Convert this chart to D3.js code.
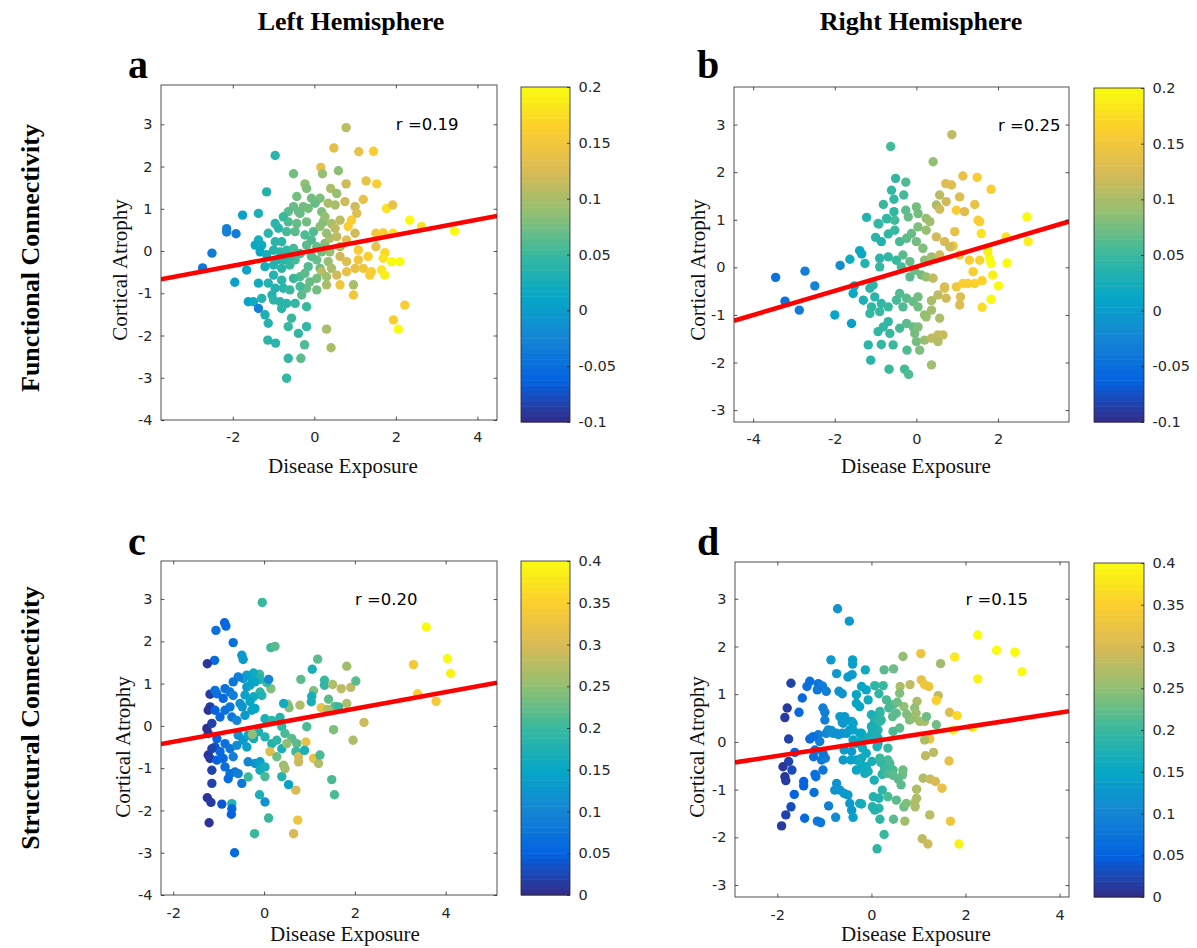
<!DOCTYPE html>
<html>
<head>
<meta charset="utf-8">
<script src="https://cdn.jsdelivr.net/npm/d3@7"></script>
<style>
  body { margin: 0; background: #fff; }
  svg text { font-family: 'DejaVu Sans', sans-serif; }
</style>
</head>
<body>
<svg id="fig" width="1197" height="948"></svg>
<script>

// [disease exposure, cortical atrophy, colour value]
const ptsA = [
  [-2.74,-0.40,-0.04],[-2.51,-0.05,-0.035],[-2.15,0.53,-0.03],[-2.15,0.45,-0.03],[-1.92,0.41,-0.035],[-1.95,-0.74,0.005],
  [-0.96,2.26,0.04],[-0.51,1.83,0.075],[0.16,1.98,0.14],[0.20,1.83,0.09],[0.59,1.90,0.085],[0.48,2.44,0.135],[0.78,2.92,0.11],
  [1.09,2.35,0.14],[1.45,2.36,0.16],[3.44,0.47,0.2],
  [-1.14,-2.11,0.04],[-0.95,-2.18,0.04],[-0.64,-2.54,0.045],[-0.33,-2.54,0.065],[-0.68,-3.01,0.045],[-0.24,-2.22,0.06],[0.41,-2.29,0.1],
  [-0.23,1.59,0.09],[-0.19,1.48,0.08],[-1.17,1.40,0.035],[0.40,1.48,0.1],[0.55,1.36,0.09],[0.78,1.59,0.12],[1.27,1.66,0.14],
  [1.53,1.59,0.16],[-0.43,1.29,0.075],[-0.07,1.25,0.075],[0.14,1.25,0.08],[0.02,1.13,0.07],[-0.27,1.05,0.075],[-0.51,1.05,0.07],
  [-0.64,0.93,0.065],[-0.35,0.89,0.07],[0.34,1.13,0.1],[0.51,1.09,0.1],[0.75,1.17,0.12],[1.0,1.05,0.12],[1.2,1.22,0.14],
  [1.04,0.89,0.13],[1.77,1.01,0.18],[1.92,1.09,0.14],[-1.37,0.89,0.03],[-1.76,0.85,0.005],[2.34,0.73,0.2],[2.63,0.58,0.18],
  [-0.96,0.65,0.04],[-0.88,0.54,0.04],[-0.64,0.69,0.06],[-0.43,0.65,0.07],[-0.19,0.69,0.075],[-0.02,0.46,0.06],[0.22,0.69,0.08],
  [0.42,0.65,0.1],[0.63,0.73,0.11],[0.83,0.58,0.16],[0.91,0.73,0.16],[1.0,0.42,0.12],[-0.68,0.46,0.055],[-0.47,0.46,0.065],
  [-1.13,0.42,0.04],[-1.37,0.26,0.025],[1.51,0.42,0.15],[1.69,0.43,0.16],[1.93,0.42,0.18],[-1.45,0.14,0.015],[-1.29,0.14,0.02],
  [-1.33,-0.02,0.015],[-0.96,0.22,0.04],[-0.80,0.22,0.04],[-1.0,0.02,0.035],[-0.84,-0.02,0.04],[-0.68,0.02,0.045],[-0.51,0.06,0.055],
  [-0.35,-0.06,0.055],[-0.19,0.14,0.065],[-0.07,0.26,0.06],[0.06,0.10,0.07],[0.26,0.18,0.08],[0.38,0.30,0.1],[0.63,0.10,0.1],
  [0.63,-0.13,0.12],[1.08,0.02,0.16],[1.51,0.10,0.14],[1.73,-0.04,0.17],[1.69,-0.17,0.18],[1.89,-0.25,0.2],[2.10,-0.25,0.2],
  [-1.66,-0.45,0.01],[-1.21,-0.37,0.025],[-1.0,-0.33,0.035],[-0.80,-0.41,0.04],[-0.60,-0.33,0.05],[-0.47,-0.21,0.055],[-0.15,-0.37,0.06],
  [0.06,-0.21,0.07],[0.14,-0.41,0.075],[0.34,-0.25,0.09],[0.42,-0.41,0.1],[0.18,-0.49,0.11],[0.55,-0.57,0.12],[0.79,-0.49,0.14],
  [1.0,-0.41,0.14],[1.2,-0.41,0.15],[1.36,-0.57,0.16],[1.40,-0.49,0.16],[1.65,-0.45,0.18],[1.73,-0.57,0.19],[-1.0,-0.57,0.035],
  [-1.13,-0.76,0.035],[-0.80,-0.69,0.04],[-0.35,-0.61,0.06],[-1.37,-0.76,0.02],[-0.96,-0.88,0.035],[-0.76,-0.88,0.04],[-1.04,-1.04,0.035],
  [-1.0,-1.16,0.04],[-1.29,-1.12,0.035],[-0.60,-0.92,0.05],[-0.31,-1.04,0.065],[-0.19,-0.88,0.07],[0.06,-0.92,0.075],[-0.11,-0.73,0.07],
  [0.30,-0.80,0.1],[0.63,-0.80,0.15],[0.96,-0.80,0.1],[0.96,-1.04,0.15],[-0.84,-1.20,0.04],[-0.68,-1.24,0.04],[-0.47,-1.24,0.045],
  [-1.62,-1.20,0.01],[-1.49,-1.20,0.02],[-1.37,-1.36,-0.03],[-0.19,-1.32,0.05],[2.22,-1.28,0.16],[-1.21,-1.51,0.03],[-1.13,-1.71,0.035],
  [-0.80,-1.36,0.04],[-0.56,-1.59,0.05],[-0.64,-1.79,0.05],[-0.19,-1.79,0.045],[0.30,-1.85,0.1],[-0.39,-1.95,0.045],[1.94,-1.63,0.16],
  [2.06,-1.85,0.2],
  [-0.76,0.81,0.05],[-0.39,0.93,0.07],[-0.15,1.01,0.075],[0.18,0.93,0.08],[0.26,0.81,0.09],[0.14,0.58,0.085],[0.51,0.54,0.11],
  [0.30,0.42,0.09],[0.55,0.34,0.11],[0.79,0.26,0.13],[-0.23,0.38,0.06],[-0.07,-0.13,0.065],[0.18,-0.02,0.075],[0.38,-0.02,0.09],
  [-0.60,-0.13,0.045],[-0.76,-0.21,0.04],[-0.23,-0.53,0.065],[0.06,-0.65,0.075],[0.30,-0.61,0.095],[0.79,-0.25,0.13],[1.08,-0.21,0.15],
  [1.32,-0.13,0.16],[-0.92,-0.21,0.035],[-1.17,-0.09,0.025],[-0.51,-0.65,0.05],[-0.35,-0.84,0.055]
];

const ptsB = [
  [-3.45,-0.21,-0.045],[-3.22,-0.71,-0.045],[-2.87,-0.90,-0.035],[-0.63,2.54,0.055],[0.87,2.79,0.11],[2.71,1.06,0.2],[2.74,0.54,0.19],
  [2.22,0.09,0.2],[2.01,-0.39,0.2],[1.83,-0.67,0.2],[1.61,-0.84,0.175],[1.87,-0.16,0.19],[2.2,0.64,0.18],[-1.12,-1.95,0.04],
  [-0.67,-2.14,0.05],[-0.29,-2.14,0.055],[-0.19,-2.25,0.06],[0.37,-2.05,0.095],
  [0.41,2.22,0.09],[-0.51,1.87,0.045],[-0.26,1.79,0.06],[-0.61,1.62,0.045],[-0.55,1.43,0.045],[-0.31,1.52,0.055],[-0.81,1.32,0.05],
  [-0.55,1.17,0.045],[-0.26,1.20,0.065],[0.0,1.27,0.075],[-1.22,1.05,0.035],[-0.94,0.92,0.05],[-0.72,1.02,0.045],[-0.53,0.99,0.055],
  [-0.20,1.06,0.07],[0.04,1.13,0.075],[0.24,1.03,0.09],[0.33,0.96,0.095],[0.49,1.31,0.1],[0.57,1.52,0.11],[0.73,1.38,0.12],
  [0.72,1.76,0.13],[0.86,1.73,0.13],[1.06,1.48,0.13],[1.14,1.92,0.14],[1.49,1.89,0.16],[1.83,1.64,0.16],[0.57,1.22,0.12],
  [0.98,1.20,0.16],[1.18,1.17,0.13],[1.43,1.32,0.14],[1.51,0.99,0.16],[1.55,0.96,0.16],[1.59,0.71,0.18],[0.94,0.75,0.14],
  [0.49,0.64,0.12],[0.69,0.54,0.125],[0.90,0.45,0.15],[-1.0,0.63,0.04],[-0.86,0.54,0.035],[-0.69,0.70,0.045],[-0.53,0.78,0.05],
  [-0.41,0.54,0.055],[-0.24,0.61,0.065],[-0.12,0.71,0.07],[0.04,0.85,0.08],[0.0,0.54,0.075],[0.16,0.40,0.08],[0.24,0.78,0.09],
  [-1.39,0.35,0.015],[-1.34,0.28,0.015],[-1.63,0.17,0.02],[-1.87,0.04,-0.015],[-1.26,0.08,0.035],[-0.90,0.19,0.04],[-0.90,0.01,0.045],
  [-0.69,0.22,0.045],[-0.49,0.15,0.05],[-0.33,0.26,0.065],[-0.37,0.01,0.055],[-0.16,0.12,0.07],[-0.04,-0.06,0.07],[-0.16,-0.20,0.065],
  [0.12,-0.16,0.075],[0.24,-0.20,0.09],[0.41,-0.23,0.11],[0.20,0.15,0.085],[0.37,0.22,0.095],[0.57,0.26,0.12],[0.82,0.43,0.12],
  [1.06,0.26,0.15],[1.30,0.15,0.16],[1.55,0.15,0.165],[1.79,0.19,0.2],[1.83,0.08,0.2],[1.39,-0.09,0.16],[0.98,-0.41,0.15],
  [1.14,-0.34,0.16],[1.26,-0.34,0.16],[1.43,-0.34,0.165],[1.61,-0.28,0.165],[0.69,-0.41,0.12],[0.53,-0.58,0.11],[0.73,-0.65,0.12],
  [1.06,-0.79,0.13],[1.08,-0.62,0.13],[-1.06,-0.37,0.04],[-1.14,-0.44,0.04],[-1.55,-0.55,0.015],[-1.30,-0.69,0.03],[-1.02,-0.62,0.04],
  [-0.86,-0.76,0.045],[-1.10,-0.83,0.045],[-1.14,-0.97,0.045],[-0.90,-0.93,0.05],[-0.69,-0.83,0.05],[-0.49,-0.69,0.055],[-0.41,-0.55,0.06],
  [-0.24,-0.65,0.065],[-0.33,-0.83,0.06],[-0.08,-0.72,0.07],[0.04,-0.62,0.075],[0.04,-0.83,0.075],[0.20,-1.0,0.09],[0.37,-0.90,0.095],
  [0.57,-1.07,0.1],[-0.69,-1.14,0.045],[-0.81,-1.25,0.045],[-0.65,-1.39,0.05],[-0.41,-1.28,0.055],[-0.24,-1.18,0.065],[-0.08,-1.25,0.07],
  [-0.04,-1.39,0.075],[0.04,-1.25,0.08],[0.24,-1.04,0.09],[-0.94,-1.35,0.045],[-1.18,-1.63,0.04],[-0.86,-1.62,0.045],[-0.57,-1.63,0.05],
  [-0.23,-1.74,0.06],[0.0,-1.56,0.075],[0.20,-1.53,0.09],[0.37,-1.49,0.11],[0.53,-1.42,0.115],[0.65,-1.42,0.115],[0.53,-1.56,0.105],
  [0.08,-1.74,0.08],[-1.59,-1.18,0.005],[-2.0,-1.0,0.01],[-2.49,-0.39,-0.025],[-2.73,-0.08,-0.03],[-1.52,-0.39,0.02],
  [1.75,0.33,0.19],[0.69,-0.44,0.13],[0.37,-0.70,0.1],[-0.92,0.91,0.045],[-0.73,1.03,0.045]
];

const ptsC = [
  [-0.04,2.92,0.2],[-0.87,2.44,0.055],[-0.84,2.36,0.06],[-1.06,2.26,0.07],[3.57,2.34,0.4],[3.29,1.45,0.34],[4.04,1.59,0.4],
  [4.11,1.24,0.39],[3.38,0.76,0.35],[3.79,0.58,0.34],[2.2,0.08,0.29],[-1.25,-1.70,0.01],[-1.17,-1.81,0.015],[-1.21,-2.29,0.01],
  [-0.93,-1.85,0.04],[-0.71,-1.84,0.18],[-0.71,-1.96,0.06],[-0.72,-2.09,0.05],[-0.65,-3.0,0.06],[-0.21,-2.55,0.2],[-0.10,-1.63,0.17],
  [0.02,-1.80,0.12],[0.10,-2.18,0.2],[0.65,-2.55,0.3],[0.74,-2.23,0.33],[1.55,-1.63,0.21],[0.70,-1.52,0.3],[0.54,-1.39,0.14],
  [-0.68,1.97,0.07],[0.15,1.85,0.2],[0.24,1.88,0.22],[-0.49,1.67,0.13],[-0.46,1.57,0.13],[-1.09,1.55,0.06],[-1.25,1.47,0.01],
  [1.18,1.58,0.22],[1.06,1.34,0.17],[1.82,1.41,0.26],[0.81,1.10,0.22],[1.33,1.08,0.2],[1.33,0.96,0.19],[1.51,0.98,0.27],
  [1.70,0.88,0.28],[1.91,0.91,0.28],[2.02,1.06,0.22],[1.09,0.83,0.24],[1.05,0.70,0.17],[1.04,0.57,0.17],[1.42,0.63,0.22],
  [1.82,0.53,0.27],[1.56,0.46,0.22],[1.26,0.43,0.32],[1.40,0.39,0.27],[1.64,0.45,0.2],[1.96,-0.34,0.27],[1.53,-0.09,0.24],
  [0.94,-0.02,0.21],[0.79,0.49,0.27],[0.52,0.51,0.25],[0.55,0.43,0.24],[0.43,0.53,0.16],[0.15,0.88,0.24],[0.06,1.02,0.2],
  [-0.10,1.22,0.2],[-0.23,1.25,0.16],[-0.09,1.10,0.18],[-0.26,1.08,0.16],[-0.38,1.20,0.14],[-0.46,1.12,0.13],[-0.57,1.16,0.09],
  [-0.68,1.04,0.08],[0.10,1.10,0.1],[-1.19,0.75,0.015],[-1.04,0.76,0.07],[-0.86,0.88,0.07],[-0.75,0.80,0.08],[-0.90,0.65,0.06],
  [-0.68,0.72,0.09],[-0.38,0.92,0.13],[-0.31,0.96,0.14],[-0.20,1.04,0.15],[-0.09,0.80,0.19],[-0.05,0.72,0.18],[-0.23,0.69,0.16],
  [-0.31,0.57,0.15],[-0.42,0.73,0.14],[-0.48,0.45,0.12],[-0.53,0.53,0.12],[-1.19,0.45,0.015],[-1.23,0.37,0.01],[-1.08,0.37,0.05],
  [-0.97,0.21,0.06],[-0.86,0.37,0.07],[-0.75,0.45,0.08],[-0.71,0.21,0.08],[-0.60,0.13,0.1],[-0.42,0.25,0.13],[-0.27,0.37,0.14],
  [-0.20,0.41,0.15],[0.02,0.17,0.17],[0.17,0.13,0.19],[0.35,0.20,0.18],[0.39,-0.02,0.19],[0.46,-0.18,0.21],[0.61,-0.30,0.22],
  [-1.26,-0.06,0.005],[-1.23,-0.18,0.01],[-1.15,0.06,0.02],[-1.04,-0.30,0.05],[-1.08,-0.50,0.04],[-0.97,-0.61,0.06],[-0.86,-0.42,0.07],
  [-0.75,-0.54,0.08],[-0.68,-0.73,0.09],[-0.60,-0.46,0.11],[-0.46,-0.34,0.13],[-0.38,-0.50,0.14],[-0.57,-0.22,0.12],[-0.35,-0.22,0.15],
  [-0.23,-0.30,0.16],[-0.12,-0.14,0.17],[0.02,-0.26,0.18],[-0.26,-0.20,0.25],[0.17,-0.42,0.18],[0.28,-0.34,0.19],[0.39,-0.54,0.17],
  [0.13,-0.61,0.31],[0.28,-0.73,0.23],[0.43,-0.93,0.26],[0.50,-0.42,0.25],[0.72,-0.42,0.22],[0.92,-0.38,0.32],[0.70,-0.61,0.2],
  [0.76,-0.73,0.3],[0.76,-0.85,0.29],[0.89,-0.58,0.17],[1.09,-0.77,0.32],[1.20,-0.89,0.27],[1.23,-0.69,0.21],[1.49,-1.27,0.21],
  [-1.23,-0.69,0.01],[-1.19,-0.77,0.015],[-1.15,-0.54,0.02],[-1.04,-0.81,0.05],[-0.90,-0.77,0.06],[-0.86,-0.97,0.07],[-0.75,-1.13,0.07],
  [-0.64,-1.09,0.08],[-0.79,-1.25,0.065],[-0.57,-1.13,0.09],[-1.15,-1.05,0.02],[-1.15,-1.36,0.02],[-0.49,-1.36,0.08],[-0.35,-1.21,0.2],
  [-0.35,-0.85,0.1],[-0.20,-0.89,0.12],[-0.09,-0.85,0.14],[-0.09,-1.05,0.16],[0.02,-0.97,0.17],[0.02,-1.20,0.21],[0.39,-1.20,0.18],
  [0.46,-1.01,0.26],[-1.08,0.84,0.07]
];

const ptsD = [
  [-0.72,2.79,0.12],[-0.47,2.53,0.13],[2.26,2.24,0.4],[2.66,1.92,0.4],[3.05,1.88,0.4],[3.20,1.47,0.4],[2.26,1.32,0.39],
  [1.77,1.78,0.38],[1.05,1.85,0.33],[0.67,1.79,0.25],[1.47,1.64,0.26],[0.27,1.51,0.22],[0.47,1.53,0.23],[-0.13,1.51,0.16],
  [-0.86,1.72,0.13],[-0.40,1.72,0.14],[-0.40,1.63,0.14],[-0.74,1.43,0.13],[-0.50,1.36,0.13],[-0.41,1.41,0.13],[-1.71,1.23,0.02],
  [-1.31,1.27,0.07],[-1.37,1.16,0.07],[-1.13,1.22,0.08],[-1.04,1.17,0.09],[-1.15,1.09,0.08],[-0.96,1.06,0.09],[-0.69,1.06,0.12],
  [-0.62,1.01,0.12],[-0.21,1.16,0.15],[-0.11,1.09,0.15],[-0.07,0.88,0.16],[-0.32,0.99,0.15],[-0.32,0.81,0.15],[-0.25,0.74,0.15],
  [0.07,1.18,0.19],[0.16,1.01,0.19],[0.25,1.18,0.2],[0.61,1.16,0.27],[0.82,1.20,0.28],[0.60,1.02,0.24],[1.06,1.30,0.32],
  [1.13,1.20,0.33],[1.22,1.16,0.33],[1.42,0.97,0.28],[1.38,0.87,0.35],[0.97,0.85,0.27],[0.92,0.71,0.25],[0.69,0.74,0.25],
  [0.46,0.78,0.22],[0.37,0.71,0.21],[0.53,0.60,0.22],[0.18,0.60,0.19],[0.21,0.46,0.2],[0.45,0.53,0.22],[0.81,0.46,0.24],
  [0.88,0.50,0.25],[1.03,0.43,0.26],[1.13,0.43,0.27],[1.17,0.53,0.23],[1.38,0.36,0.23],[1.66,0.62,0.31],[1.82,0.55,0.36],
  [1.74,0.25,0.39],[2.15,0.30,0.39],[1.24,0.06,0.33],[1.13,0.04,0.27],[1.15,-0.29,0.28],[1.32,-0.22,0.28],[1.65,-0.40,0.32],
  [1.10,-0.76,0.27],[1.25,-0.78,0.29],[1.36,-0.83,0.3],[1.50,-0.97,0.32],[0.96,-0.99,0.27],[0.96,-1.18,0.27],[0.92,-1.27,0.27],
  [1.24,-1.53,0.28],[1.68,-1.66,0.33],[1.08,-2.03,0.28],[1.20,-2.14,0.29],[1.86,-2.14,0.39],[0.71,-1.66,0.26],[0.69,-1.36,0.23],
  [0.47,-1.62,0.22],[0.18,-1.62,0.19],[0.27,-1.94,0.2],[0.12,-2.24,0.19],[-0.21,-1.30,0.17],[0.02,-1.36,0.18],[0.16,-1.39,0.19],
  [0.16,-1.18,0.18],[0.04,-1.15,0.18],[0.06,-0.80,0.17],[0.23,-1.01,0.19],[0.23,-0.68,0.18],[0.67,-0.59,0.23],[0.66,-0.69,0.23],
  [0.63,-0.90,0.22],[0.57,-0.78,0.22],[0.46,-0.59,0.21],[0.35,-0.38,0.21],[0.39,-0.45,0.21],[0.20,-0.43,0.19],[0.25,-0.66,0.19],
  [0.35,-0.13,0.2],[0.60,0.29,0.22],[0.46,0.22,0.21],[0.14,0.25,0.18],[0.04,0.36,0.17],[0.02,0.22,0.17],[0.11,0.11,0.18],
  [-0.04,0.11,0.17],[-0.21,0.18,0.16],[-0.21,0.04,0.16],[-0.32,-0.03,0.15],[-0.19,-0.13,0.16],[-0.11,-0.24,0.16],[-0.21,-0.34,0.16],
  [-0.19,-0.52,0.16],[-0.14,-0.66,0.16],[-0.07,-0.62,0.17],[-0.32,-0.59,0.15],[-0.32,-0.38,0.15],[0.01,-0.41,0.17],[0.12,-0.10,0.17],
  [0.14,0.08,0.17],[-0.57,0.53,0.13],[-0.42,0.43,0.14],[-0.62,0.41,0.12],[-0.85,0.24,0.12],[-0.74,0.18,0.12],[-0.96,0.18,0.1],
  [-1.13,0.15,0.09],[-1.10,0.01,0.09],[-1.31,0.06,0.06],[-1.24,0.11,0.07],[-0.53,0.18,0.13],[-0.62,0.18,0.13],[-0.46,0.25,0.13],
  [-0.58,-0.17,0.13],[-0.60,-0.38,0.13],[-0.42,-0.20,0.13],[-0.44,-0.38,0.14],[-1.23,-0.31,0.07],[-1.06,-0.38,0.08],[-0.98,-0.34,0.09],
  [-1.03,-0.59,0.08],[-1.20,-0.68,0.07],[-1.18,-0.73,0.07],[-1.44,-0.83,0.05],[-1.44,-0.92,0.05],[-1.64,-1.10,0.05],[-1.22,-1.06,0.07],
  [-1.71,-1.36,0.03],[-1.82,-1.53,0.02],[-1.91,-1.76,0.015],[-1.42,-1.60,0.06],[-1.15,-1.66,0.08],[-1.08,-1.69,0.08],[-0.91,-1.34,0.09],
  [-0.76,-1.58,0.11],[-0.74,-0.87,0.12],[-0.78,-1.01,0.12],[-0.67,-1.01,0.12],[-0.58,-1.08,0.13],[-0.50,-1.11,0.13],[-0.46,-1.29,0.13],
  [-0.42,-1.43,0.13],[-0.39,-1.58,0.14],[-1.84,0.51,0.015],[-1.79,0.71,0.015],[-1.76,0.06,0.02],[-1.63,-0.22,0.05],[-1.69,-0.59,0.03],
  [-1.88,-0.52,0.01],[-1.84,-0.73,0.01],[-1.82,-0.81,0.015],[-1.76,-0.41,0.02],[-1.54,0.62,0.06],[-1.47,0.92,0.06],[-1.03,0.71,0.09],
  [-0.99,0.62,0.09],[-0.99,0.46,0.09],
  [0.0,0.57,0.17],[0.18,0.64,0.19],[0.07,0.46,0.18],[0.18,0.43,0.19],[0.0,0.32,0.17],[0.14,-0.04,0.17],[-0.67,0.53,0.13],
  [-0.53,0.46,0.13],[-0.6,0.39,0.13],[-0.39,0.39,0.14],[-0.39,0.25,0.14],[-0.25,0.18,0.15],[-0.39,0.04,0.15],[-0.92,0.25,0.11],
  [-0.81,0.18,0.12],[-0.7,0.15,0.12],[-0.25,-0.41,0.16],[-0.11,-0.52,0.16],[0.18,-0.34,0.2],[0.28,-0.55,0.2],[0.35,-0.66,0.21],
  [0.46,-0.70,0.22],[-0.25,-1.29,0.16],[0.07,-1.43,0.18],[0.35,-1.15,0.21],[0.53,-1.22,0.22],[0.74,-1.29,0.24],[0.93,-1.36,0.27],
  [-1.2,-0.17,0.07],[-1.03,-0.24,0.08],[0.95,0.60,0.26],[0.75,0.58,0.24],[0.55,0.83,0.23],[0.32,0.88,0.21]
];

// regression lines, one per panel
const fitSlope = [0.182, 0.254, 0.196, 0.151];
const fitIntercept = [0.015, 0.013, 0.015, 0.008];
const rLabels = ['r =0.19', 'r =0.25', 'r =0.20', 'r =0.15'];
const panelLetters = ['a', 'b', 'c', 'd'];

const xTicksAC = [-2, 0, 2, 4];
const xTicksB = [-4, -2, 0, 2];
const xTicksD = [-2, 0, 2, 4];
const yTicksAC = [-4, -3, -2, -1, 0, 1, 2, 3];
const yTicksBD = [-3, -2, -1, 0, 1, 2, 3];
const cTicksFunctional = [-0.1, -0.05, 0, 0.05, 0.1, 0.15, 0.2];
const cTicksStructural = [0, 0.05, 0.1, 0.15, 0.2, 0.25, 0.3, 0.35, 0.4];

const columnTitles = ['Left Hemisphere', 'Right Hemisphere'];
const rowTitles = ['Functional Connectivity', 'Structural Connectivity'];

// parula
const parulaStops = ['#352a87', '#0363e1', '#1485d4', '#06a7c6', '#38b99e', '#92bf73', '#d9ba56', '#fcce2e', '#f9fb0e'];

const axisColor = '#262626';
const serif = "'Liberation Serif', 'Times New Roman', serif";

const panels = [
  { pts: ptsA, box: {l: 161, t: 85, r: 497, b: 420}, xDomain: [-3.76, 4.48], yDomain: [-4, 3.93],
    xTicks: xTicksAC, yTicks: yTicksAC, cDomain: [-0.1, 0.2], cTicks: cTicksFunctional,
    cbar: {l: 521, r: 570, t: 87, b: 422}, xLabel: {x: 343, y: 473}, yLabel: {x: 120, y: 270}, tickPad: 11.5 },
  { pts: ptsB, box: {l: 734, t: 87, r: 1069, b: 422}, xDomain: [-4.47, 3.74], yDomain: [-3.25, 3.79],
    xTicks: xTicksB, yTicks: yTicksBD, cDomain: [-0.1, 0.2], cTicks: cTicksFunctional,
    cbar: {l: 1094, r: 1144, t: 88, b: 422}, xLabel: {x: 916, y: 473}, yLabel: {x: 698, y: 270}, tickPad: 11.5 },
  { pts: ptsC, box: {l: 161, t: 561, r: 497, b: 895}, xDomain: [-2.27, 5.13], yDomain: [-4, 3.9],
    xTicks: xTicksAC, yTicks: yTicksAC, cDomain: [0, 0.4], cTicks: cTicksStructural,
    cbar: {l: 521, r: 570, t: 561, b: 895}, xLabel: {x: 345, y: 941}, yLabel: {x: 123, y: 747}, tickPad: 12.5 },
  { pts: ptsD, box: {l: 735, t: 562, r: 1069, b: 897}, xDomain: [-2.9, 4.2], yDomain: [-3.25, 3.77],
    xTicks: xTicksD, yTicks: yTicksBD, cDomain: [0, 0.4], cTicks: cTicksStructural,
    cbar: {l: 1094, r: 1144, t: 563, b: 897}, xLabel: {x: 916, y: 941}, yLabel: {x: 697, y: 747}, tickPad: 12.5 }
];

const svg = d3.select('#fig');

function styleAxis(sel) {
  sel.select('.domain').remove();
  sel.selectAll('line').attr('stroke', axisColor).attr('stroke-width', 0.8);
  sel.selectAll('text').attr('fill', axisColor)
    .style('font-family', "'DejaVu Sans', sans-serif").style('font-size', '14.5px');
}

function drawPanel(p, i) {
  const g = svg.append('g');
  const x = d3.scaleLinear().domain(p.xDomain).range([p.box.l, p.box.r]);
  const y = d3.scaleLinear().domain(p.yDomain).range([p.box.b, p.box.t]);
  const span = p.cDomain[1] - p.cDomain[0];
  const color = d3.scaleLinear()
    .domain(parulaStops.map((c, k) => p.cDomain[0] + span * k / (parulaStops.length - 1)))
    .range(parulaStops).clamp(true);

  const clipId = 'clip' + i;
  svg.append('clipPath').attr('id', clipId).append('rect')
    .attr('x', p.box.l).attr('y', p.box.t)
    .attr('width', p.box.r - p.box.l).attr('height', p.box.b - p.box.t);

  const plot = g.append('g').attr('clip-path', `url(#${clipId})`);
  plot.selectAll('circle').data(p.pts).join('circle')
    .attr('cx', d => x(d[0])).attr('cy', d => y(d[1]))
    .attr('r', 4.7).attr('fill', d => color(d[2]));

  plot.append('line')
    .attr('x1', x(p.xDomain[0])).attr('y1', y(fitIntercept[i] + fitSlope[i] * p.xDomain[0]))
    .attr('x2', x(p.xDomain[1])).attr('y2', y(fitIntercept[i] + fitSlope[i] * p.xDomain[1]))
    .attr('stroke', '#ff0000').attr('stroke-width', 4.6);

  // box + ticks on all four sides
  g.append('rect').attr('x', p.box.l).attr('y', p.box.t)
    .attr('width', p.box.r - p.box.l).attr('height', p.box.b - p.box.t)
    .attr('fill', 'none').attr('stroke', axisColor).attr('stroke-width', 0.8);

  g.append('g').attr('transform', `translate(0,${p.box.b})`)
    .call(d3.axisBottom(x).tickValues(p.xTicks).tickSize(-3.4).tickPadding(p.tickPad).tickFormat(d3.format('')))
    .call(styleAxis);
  g.append('g').attr('transform', `translate(0,${p.box.t})`)
    .call(d3.axisTop(x).tickValues(p.xTicks).tickSize(-3.4).tickFormat(''))
    .call(styleAxis);
  g.append('g').attr('transform', `translate(${p.box.l},0)`)
    .call(d3.axisLeft(y).tickValues(p.yTicks).tickSize(-3.4).tickPadding(8.5).tickFormat(d3.format('')))
    .call(styleAxis);
  g.append('g').attr('transform', `translate(${p.box.r},0)`)
    .call(d3.axisRight(y).tickValues(p.yTicks).tickSize(-3.4).tickFormat(''))
    .call(styleAxis);
  g.selectAll('.tick text').each(function() {
    const t = d3.select(this);
    t.text(t.text().replace('−', '-'));
  });

  g.append('text').attr('x', x(2)).attr('y', y(3)).attr('dy', '0.36em')
    .attr('fill', '#000').style('font-size', '16.5px').text(rLabels[i]);

  g.append('text').attr('x', p.xLabel.x).attr('y', p.xLabel.y).attr('text-anchor', 'middle')
    .style('font-family', serif).style('font-size', '21px').attr('fill', '#111').text('Disease Exposure');
  g.append('text').attr('transform', `translate(${p.yLabel.x},${p.yLabel.y}) rotate(-90)`)
    .attr('text-anchor', 'middle').attr('dy', '0.35em')
    .style('font-family', serif).style('font-size', '21px').attr('fill', '#111').text('Cortical Atrophy');

  // colorbar, 64 bands like MATLAB
  const cy = d3.scaleLinear().domain(p.cDomain).range([p.cbar.b, p.cbar.t]);
  const bands = d3.range(64);
  const bh = (p.cbar.b - p.cbar.t) / 64;
  g.append('g').selectAll('rect').data(bands).join('rect')
    .attr('x', p.cbar.l).attr('width', p.cbar.r - p.cbar.l)
    .attr('y', k => p.cbar.b - (k + 1) * bh).attr('height', bh + 0.5)
    .attr('fill', k => color(p.cDomain[0] + span * (k + 0.5) / 64));
  g.append('rect').attr('x', p.cbar.l).attr('y', p.cbar.t)
    .attr('width', p.cbar.r - p.cbar.l).attr('height', p.cbar.b - p.cbar.t)
    .attr('fill', 'none').attr('stroke', axisColor).attr('stroke-width', 0.8);
  g.append('g').attr('transform', `translate(${p.cbar.r},0)`)
    .call(d3.axisRight(cy).tickValues(p.cTicks).tickSize(-3).tickPadding(8.5).tickFormat(d => String(d)))
    .call(styleAxis);

  g.append('text').attr('x', i % 2 ? 697 : 128).attr('y', i < 2 ? 78 : 555)
    .style('font-family', serif).style('font-weight', 'bold').style('font-size', '40px')
    .attr('fill', '#000').text(panelLetters[i]);
}

panels.forEach(drawPanel);

svg.selectAll('.colTitle').data(columnTitles).join('text')
  .attr('class', 'colTitle')
  .attr('x', (d, i) => i ? 921 : 351).attr('y', 30).attr('text-anchor', 'middle')
  .style('font-family', serif).style('font-weight', 'bold').style('font-size', '26px')
  .attr('fill', '#000').text(d => d);

svg.selectAll('.rowTitle').data(rowTitles).join('text')
  .attr('class', 'rowTitle')
  .attr('transform', (d, i) => `translate(30,${i ? 718 : 258}) rotate(-90)`)
  .attr('text-anchor', 'middle').attr('dy', '0.35em')
  .style('font-family', serif).style('font-weight', 'bold').style('font-size', '26px')
  .attr('fill', '#000').text(d => d);

</script>
</body>
</html>
